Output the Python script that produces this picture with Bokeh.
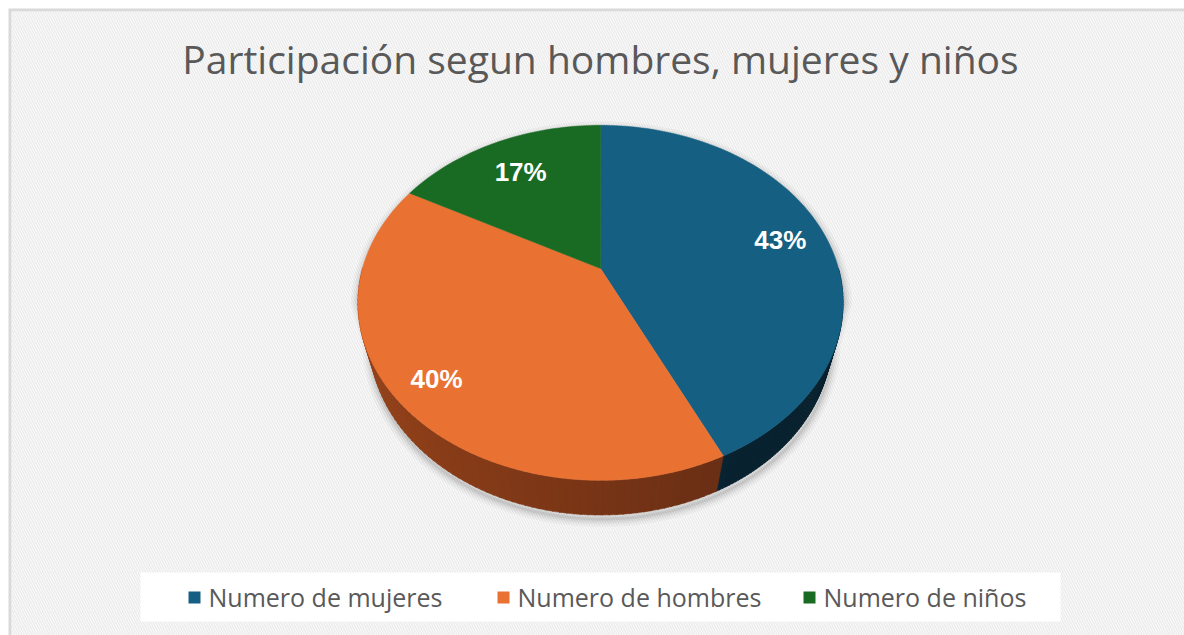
import numpy as np
from bokeh.plotting import figure
from bokeh.models import Range1d
from bokeh.embed import file_html
from bokeh.resources import INLINE
from bokeh.core.properties import value

# ---------------- data ----------------
title_text = "Participación segun hombres, mujeres y niños"
categories = ["Numero de mujeres", "Numero de hombres", "Numero de niños"]
shares = [43, 40, 17]
pct_labels = ["43%", "40%", "17%"]
top_colors = ["#156082", "#E97132", "#196B24"]
side_left = ["#0b2b3c", "#96431a", "#0f3f15"]
side_right = ["#08202d", "#5a2713", "#0a2a0e"]

# ---------------- layout ----------------
W, H = 1184, 635

p = figure(width=W, height=H, output_backend="svg", toolbar_location=None,
           x_range=Range1d(0, W), y_range=Range1d(0, H),
           x_axis_location=None, y_axis_location=None,
           min_border_left=0, min_border_top=0, min_border_right=0, min_border_bottom=0)
p.grid.visible = False
p.outline_line_color = None
p.border_fill_color = "white"
p.background_fill_color = "white"


def px(x):
    return x


def py(y):
    return H - y


# chart frame: gray border on left / top, hatched background
p.quad(left=[px(8)], right=[px(W)], bottom=[py(H)], top=[py(8)], fill_color="#d9d9d9", line_color=None)
p.quad(left=[px(11)], right=[px(W)], bottom=[py(H)], top=[py(11)], fill_color="white", line_color=None,
       hatch_pattern="\\", hatch_color="#ececec", hatch_scale=5, hatch_weight=1.6)

# ---------------- 3D pie projection ----------------
CX, CY = 600, 268
R = 238.0
SINP = 0.718
COSP = np.sqrt(1 - SINP ** 2)
DIST = 3.6
DEPTH = 0.24


def proj(X, Y, Z):
    v = Y * SINP + Z * COSP
    d = Y * COSP - Z * SINP
    s = DIST / (DIST + d)
    return px(CX + R * X * s), py(CY) + R * v * s


vals = np.array(shares, dtype=float)
fr = vals / vals.sum()
starts = np.concatenate([[0], np.cumsum(fr)[:-1]]) * 2 * np.pi
ends = np.cumsum(fr) * 2 * np.pi


def arc_pts(a0, a1, z, n=120):
    t = np.linspace(a0, a1, max(int(n * (a1 - a0) / np.pi) + 2, 3))
    return proj(np.sin(t), np.cos(t), z)


# soft shadow around the silhouette
tt = np.linspace(0, 2 * np.pi, 400)
tx, ty = proj(np.sin(tt), np.cos(tt), 0.0)
bx, by = proj(np.sin(tt), np.cos(tt), -DEPTH)
sx = np.concatenate([tx[np.cos(tt) >= -0.19], bx[np.cos(tt) < -0.19]])
sy = np.concatenate([ty[np.cos(tt) >= -0.19], by[np.cos(tt) < -0.19]])
cxd, cyd = px(CX), py(CY) - 20
order = np.argsort(np.arctan2(sy - cyd, sx - cxd))
sx, sy = sx[order] + 1, sy[order] - 4
for w, a in [(16, 0.03), (11, 0.04), (7, 0.05), (3, 0.07)]:
    p.patch(sx, sy, fill_color=None, line_color="black", line_alpha=a, line_width=w)

# side walls (front half only)
for i in range(len(shares)):
    a0 = max(starts[i], np.pi / 2)
    a1 = min(ends[i], 3 * np.pi / 2)
    if a1 <= a0:
        continue
    t = np.linspace(a0, a1, 80)
    xs_list, ys_list, cols = [], [], []
    c0 = np.array([int(side_left[i][k:k + 2], 16) for k in (1, 3, 5)])
    c1 = np.array([int(side_right[i][k:k + 2], 16) for k in (1, 3, 5)])
    for j in range(len(t) - 1):
        ta, tb = t[j], t[j + 1] + 0.004
        xa, ya = proj(np.sin(ta), np.cos(ta), 0.0)
        xb, yb = proj(np.sin(tb), np.cos(tb), 0.0)
        xc, yc = proj(np.sin(tb), np.cos(tb), -DEPTH)
        xd, yd = proj(np.sin(ta), np.cos(ta), -DEPTH)
        xs_list.append([xa, xb, xc, xd])
        ys_list.append([ya, yb, yc, yd])
        f = np.clip((np.sin(ta) + 1) / 2, 0, 1)
        c = (c0 * (1 - f) + c1 * f).astype(int)
        cols.append("#%02x%02x%02x" % tuple(c))
    p.patches(xs_list, ys_list, fill_color=cols, line_color=cols, line_width=0.6)

# top faces
ox, oy = proj(0.0, 0.0, 0.0)
for i in range(len(shares)):
    ax, ay = arc_pts(starts[i], ends[i], 0.0)
    xs = np.concatenate([[ox], ax])
    ys = np.concatenate([[oy], ay])
    p.patch(xs, ys, fill_color=top_colors[i], line_color=top_colors[i], line_width=0.5)

# percentage labels
lab_r = [0.80, 0.84, 0.74]
lx, ly = [], []
for i in range(len(shares)):
    m = (starts[i] + ends[i]) / 2
    x, y = proj(lab_r[i] * np.sin(m), lab_r[i] * np.cos(m), 0.0)
    lx.append(x)
    ly.append(y)
p.text(lx, ly, text=pct_labels, text_color="white", text_font=value("Liberation Sans"),
       text_font_style="bold", text_font_size="26px", text_align="center", text_baseline="middle")

# title
p.text([px(600)], [py(58)], text=[title_text], text_color="#595959",
       text_font=value("Open Sans"), text_font_size="39px",
       text_align="center", text_baseline="middle")

# legend
p.quad(left=[px(140)], right=[px(1060)], bottom=[py(621)], top=[py(572)],
       fill_color="white", line_color=None)
leg_x = [188, 497, 803]
p.rect([px(x + 6) for x in leg_x], [py(597)] * 3, width=12, height=12,
       fill_color=top_colors, line_color=None)
p.text([px(x + 20) for x in leg_x], [py(596)] * 3, text=categories, text_color="#595959",
       text_font=value("Open Sans"), text_font_size="25px",
       text_align="left", text_baseline="middle")

open("out.html", "w").write(file_html(p, INLINE))
